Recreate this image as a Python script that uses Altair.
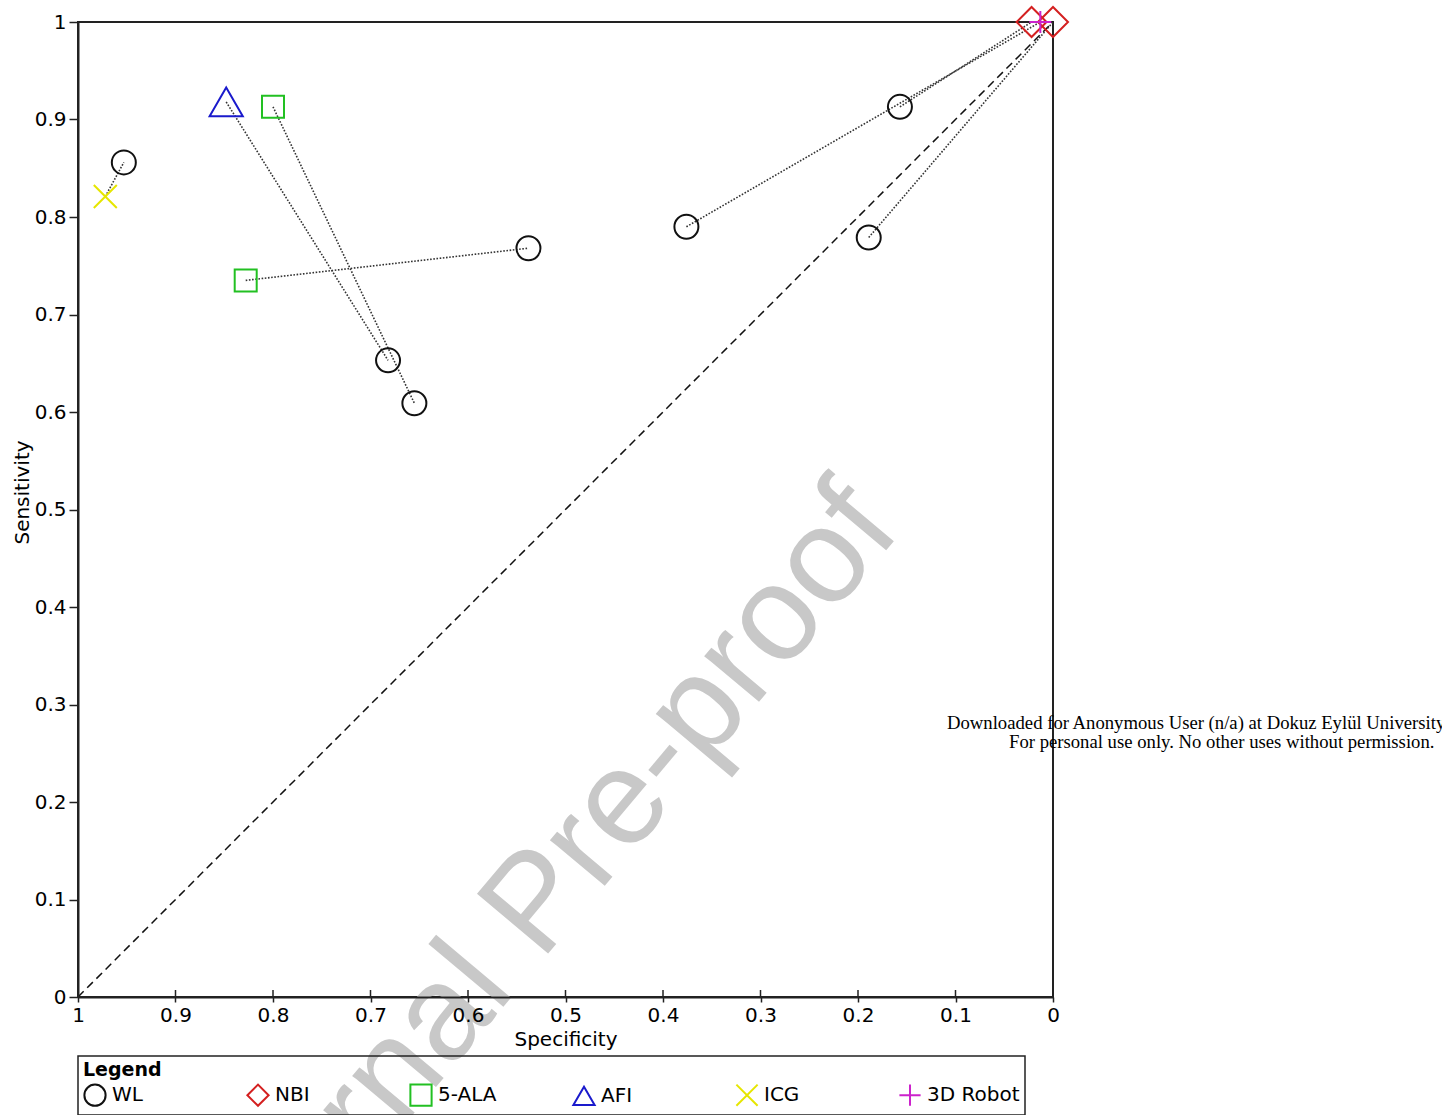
import altair as alt
import pandas as pd

# ---------------- data ----------------
methods_order = ["WL", "NBI", "5-ALA", "AFI", "ICG", "3D Robot"]
method_colors = ["#111111", "#d42020", "#22c022", "#1a1acc", "#e6e600", "#cc22cc"]
method_shapes = ["circle", "diamond", "square", "triangle-up",
                 "M-1,-1L1,1M-1,1L1,-1", "M-1,0L1,0M0,-1L0,1"]
method_sizes = [576, 900, 484, 1100, 529, 484]

pt_method = ["WL", "WL", "WL", "WL", "WL", "WL", "WL",
             "NBI", "NBI", "5-ALA", "5-ALA", "AFI", "ICG", "3D Robot"]
pt_spec = [0.953, 0.538, 0.682, 0.655, 0.376, 0.157, 0.189,
           0.022, 0.000, 0.800, 0.828, 0.848, 0.972, 0.013]
pt_sens = [0.856, 0.768, 0.653, 0.609, 0.790, 0.913, 0.779,
           1.000, 1.000, 0.913, 0.735, 0.918, 0.821, 1.000]

# paired comparisons (dotted connectors)
pair_spec_a = [0.972, 0.848, 0.800, 0.828, 0.376, 0.157, 0.189]
pair_sens_a = [0.821, 0.918, 0.913, 0.735, 0.790, 0.913, 0.779]
pair_spec_b = [0.953, 0.682, 0.655, 0.538, 0.013, 0.022, 0.000]
pair_sens_b = [0.856, 0.653, 0.609, 0.768, 1.000, 1.000, 1.000]

diag_spec = [1.0, 0.0]
diag_sens = [0.0, 1.0]

tick_values = [0, 0.1, 0.2, 0.3, 0.4, 0.5, 0.6, 0.7, 0.8, 0.9, 1]

watermark_text = ["Journal Pre-proof"]
download_lines = ["Downloaded for Anonymous User (n/a) at Dokuz Eylül University",
                  "For personal use only. No other uses without permission."]

# ---------------- tables ----------------
points = pd.DataFrame({"method": pt_method, "spec": pt_spec, "sens": pt_sens})
pairs = pd.DataFrame({"spec": pair_spec_a, "sens": pair_sens_a,
                      "spec2": pair_spec_b, "sens2": pair_sens_b})
diag = pd.DataFrame({"spec": diag_spec, "sens": diag_sens})
ticks = pd.DataFrame({"v": tick_values})

FONT = "DejaVu Sans"
xscale = alt.Scale(domain=[0, 1], reverse=True, nice=False, zero=False)
yscale = alt.Scale(domain=[0, 1], nice=False, zero=False)

xaxis = alt.Axis(values=tick_values, format="~g", title="Specificity", grid=False,
                 tickSize=5, labelPadding=3, titlePadding=4, zindex=1,
                 labelFontSize=20, titleFontSize=20, labelFont=FONT, titleFont=FONT,
                 titleFontWeight="normal", labelColor="#000", titleColor="#000",
                 domainColor="#222", domainWidth=2, tickColor="#222", tickWidth=1.5,
                 labelFlush=False)
yaxis = alt.Axis(values=tick_values, format="~g", title="Sensitivity", grid=False,
                 tickSize=9, labelPadding=3, titlePadding=2, zindex=1, titleY=470,
                 labelFontSize=20, titleFontSize=20, labelFont=FONT, titleFont=FONT,
                 titleFontWeight="normal", labelColor="#000", titleColor="#000",
                 domainColor="#222", domainWidth=2, tickColor="#222", tickWidth=1.5,
                 labelFlush=False)

base_x = alt.X("spec:Q", scale=xscale, axis=xaxis)
base_y = alt.Y("sens:Q", scale=yscale, axis=yaxis)

watermark = alt.Chart(pd.DataFrame({"t": watermark_text})).mark_text(
    angle=310, fontSize=135, font="Liberation Sans", color="#c8c8c8",
    align="center", baseline="middle"
).encode(x=alt.value(458), y=alt.value(882), text="t:N")

diag_line = alt.Chart(diag).mark_line(
    color="#111", strokeWidth=1.5, strokeDash=[8, 5]
).encode(x=base_x, y=base_y)

connectors = alt.Chart(pairs).mark_rule(
    color="#333", strokeWidth=1.6, strokeDash=[1.6, 1.6]
).encode(x=base_x, y=base_y, x2="spec2:Q", y2="sens2:Q")

inner_ticks = alt.Chart(ticks).mark_rule(color="#222", strokeWidth=1.5).encode(
    x=alt.X("v:Q", scale=xscale, axis=xaxis), y=alt.value(975), y2=alt.value(968))

legend = alt.Legend(
    title="Legend", orient="none", legendX=0, legendY=1034, direction="horizontal",
    columns=6, gridAlign="all", columnPadding=38,
    titleFontSize=19, titleFont=FONT, titleFontWeight="bold", titleColor="#000",
    titlePadding=3, titleAnchor="start",
    labelFontSize=20, labelFont=FONT, labelColor="#000", labelOffset=5,
    symbolSize=450, symbolStrokeWidth=2, symbolFillColor="transparent",
    strokeColor="#222", padding=5)

shape_enc = alt.Shape("method:N", scale=alt.Scale(domain=methods_order, range=method_shapes),
                      legend=legend, sort=methods_order)
color_enc = alt.Color("method:N", scale=alt.Scale(domain=methods_order, range=method_colors),
                      legend=legend, sort=methods_order)

symbol_layers = []
for m, sz in zip(methods_order, method_sizes):
    sub = points[points["method"] == m]
    symbol_layers.append(
        alt.Chart(sub).mark_point(filled=False, strokeWidth=2, opacity=1, size=sz).encode(
            x=base_x, y=base_y, shape=shape_enc, color=color_enc)
    )

dl = pd.DataFrame({"t": download_lines})
dl1 = alt.Chart(dl.iloc[[0]]).mark_text(
    font="Liberation Serif", fontSize=18.7, color="#000", align="left", baseline="middle"
).encode(x=alt.value(869), y=alt.value(701), text="t:N")
dl2 = alt.Chart(dl.iloc[[1]]).mark_text(
    font="Liberation Serif", fontSize=18.7, color="#000", align="left", baseline="middle"
).encode(x=alt.value(931), y=alt.value(720), text="t:N")

chart = alt.layer(watermark, diag_line, connectors, inner_ticks, *symbol_layers, dl1, dl2).properties(
    width=975, height=975,
    autosize=alt.AutoSizeParams(type="none"),
    padding={"left": 78, "top": 22, "right": 389, "bottom": 118},
    background="white",
).configure_view(stroke="#222", strokeWidth=2).configure_legend(strokeWidth=1.5)

chart.save("out.html", embed_options={"renderer": "svg", "actions": False})
